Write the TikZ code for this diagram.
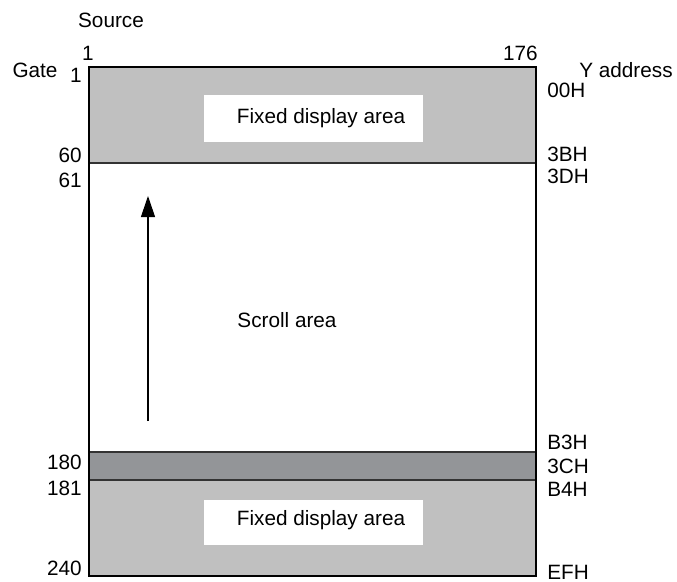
\documentclass[tikz,border=0pt]{standalone}
\usepackage{fontspec}
\setmainfont{Liberation Sans}
\usetikzlibrary{arrows.meta, positioning, calc}
\definecolor{fixGray}{HTML}{C0C0C0}
\definecolor{bandGray}{HTML}{939598}
\definecolor{edgeGray}{HTML}{333333}
\tikzset{
  lbl/.style={font=\fontsize{11.8}{14}\selectfont, inner sep=0pt},
  lblL/.style={lbl, anchor=east},
  lblR/.style={lbl, anchor=west},
  areabox/.style={fill=white, draw=none},
  frame/.style={draw=black, line width=1.1pt},
  split/.style={draw=edgeGray, line width=0.8pt},
  scroll/.style={-{Triangle[length=4.2mm, width=2.8mm]}, line width=0.6pt}
}
\begin{document}
\begin{tikzpicture}[x=0.02cm, y=-0.02cm]
  \useasboundingbox (0,0) rectangle (677,582);
  % fills
  \fill[fixGray] (89,67) rectangle (536,163);
  \fill[bandGray] (89,452) rectangle (536,480);
  \fill[fixGray] (89,480) rectangle (536,576);
  \draw[split] (89,163) -- (536,163);
  \draw[split] (89,452) -- (536,452);
  \draw[split] (89,480) -- (536,480);
  \draw[frame] (89,67) rectangle (536,576);
  % labels inside
  \fill[areabox] (204,95) rectangle (423,142);
  \node[lbl] (fixtop) at (321,118) {Fixed display area};
  \fill[areabox] (204,500) rectangle (423,545);
  \node[lbl] (fixbot) at (321,520) {Fixed display area};
  \node[lbl] (scr) at (287,320) {Scroll area};
  % arrow
  \coordinate (arrA) at (148,421);
  \coordinate (arrB) at (148,196);
  \draw[scroll] (arrA) -- (arrB);
  % axis titles
  \node[lbl] (src) at (111,20) {Source};
  \node[lbl] (gate) at (35,70) {Gate};
  \node[lbl] (yaddr) at (626,70) {Y address};
  \node[lbl] (s1) at (88,53) {1};
  \node[lbl, anchor=east] (s176) at (538,53) {176};
  % gate numbers
  \node[lblL] (g1) at (82,75) {1};
  \node[lblL] (g60) at (82,155) {60};
  \node[lblL] (g61) at (82,180) {61};
  \node[lblL] (g180) at (82,462) {180};
  \node[lblL] (g181) at (82,488) {181};
  \node[lblL] (g240) at (82,568) {240};
  % y addresses
  \node[lblR] (a00) at (547,90) {00H};
  \node[lblR] (a3b) at (547,154) {3BH};
  \node[lblR] (a3d) at (547,176) {3DH};
  \node[lblR] (ab3) at (547,442) {B3H};
  \node[lblR] (a3c) at (547,466) {3CH};
  \node[lblR] (ab4) at (547,489) {B4H};
  \node[lblR] (aef) at (547,572) {EFH};
\end{tikzpicture}
\end{document}
